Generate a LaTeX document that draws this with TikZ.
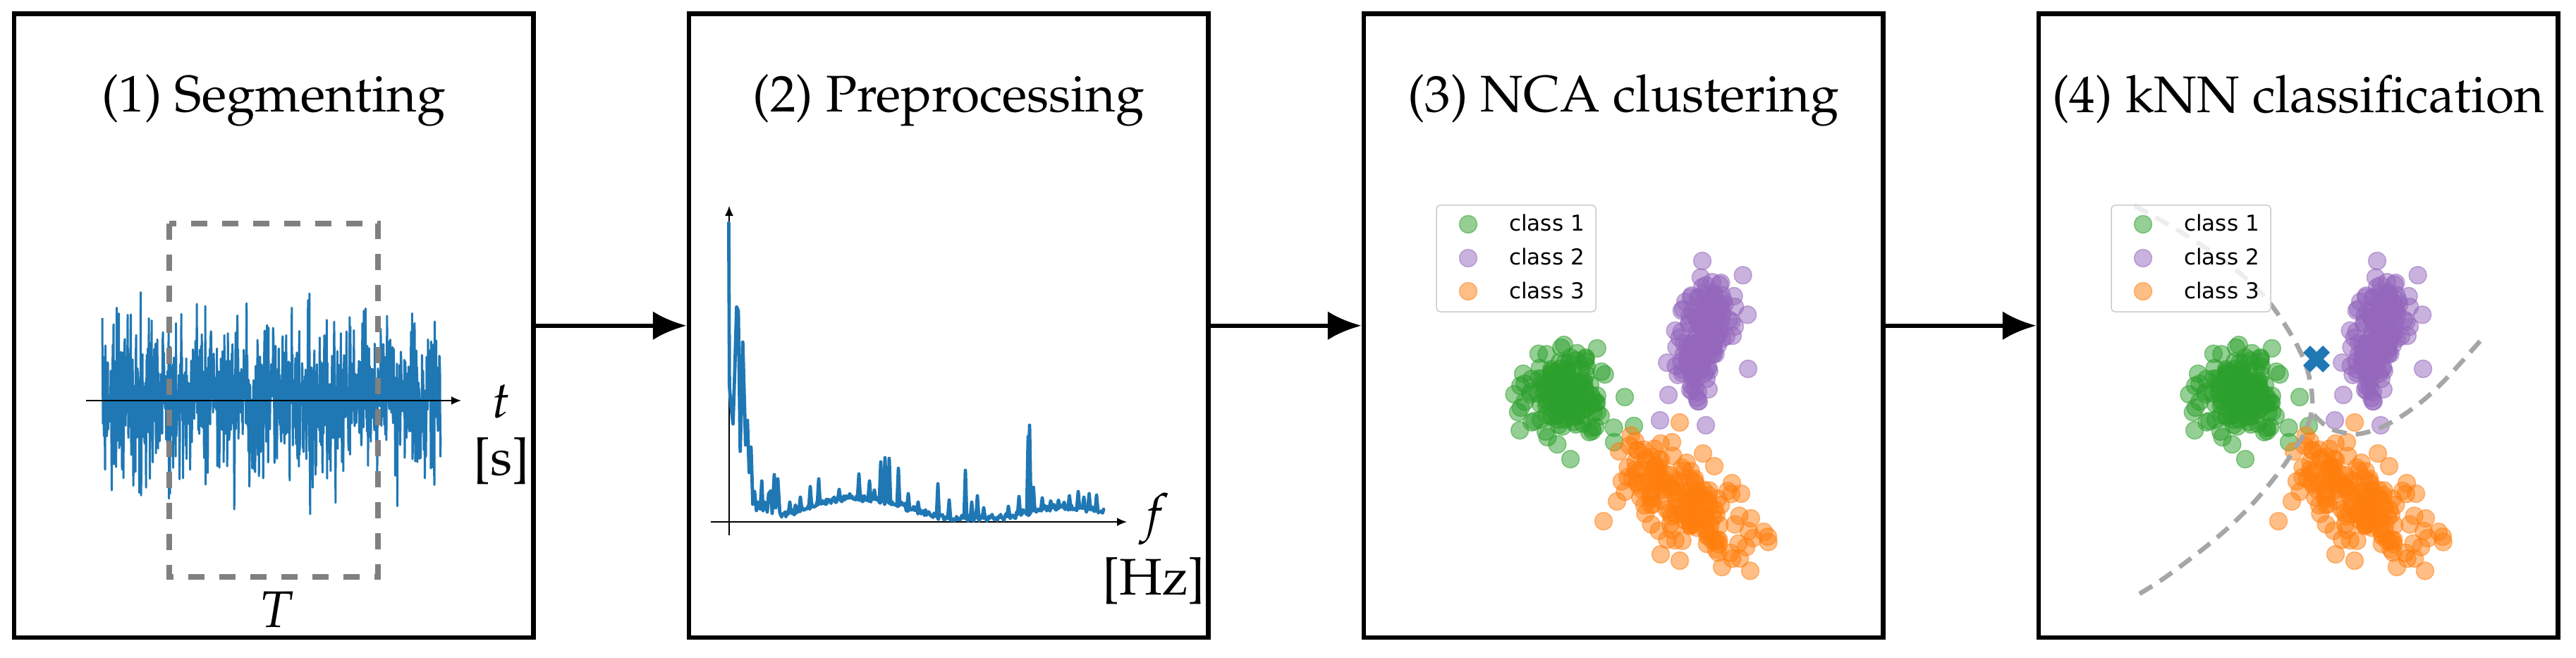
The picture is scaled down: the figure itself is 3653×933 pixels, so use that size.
\documentclass[tikz,border=0pt]{standalone}
\usepackage{fontspec}
\newfontfamily\legendfont{DejaVu Sans}
\usetikzlibrary{arrows.meta}
\definecolor{tabblue}{HTML}{1F77B4}
\definecolor{tabgreen}{HTML}{2CA02C}
\definecolor{tabpurple}{HTML}{9467BD}
\definecolor{taborange}{HTML}{FF7F0E}
\newcommand\palrm{\fontsize{73}{84}\usefont{OT1}{ppl}{m}{n}}
\newcommand\palit{\fontsize{73}{84}\usefont{OT1}{ppl}{m}{it}}
\newcommand\legfont{\legendfont\fontsize{31}{36}\selectfont}
\newcommand\gcluster[7]{%
  \foreach \i in {1,...,#2}{%
    \pgfmathsetmacro\ga{rand+rand+rand}%
    \pgfmathsetmacro\gb{rand+rand+rand}%
    \pgfmathsetmacro\ptx{#3+#5*\ga*cos(#7)-#6*\gb*sin(#7)}%
    \pgfmathsetmacro\pty{#4+#5*\ga*sin(#7)+#6*\gb*cos(#7)}%
    \path[pt=#1] (\ptx,\pty) circle[radius=12.5];
  }}
\newcommand\scatterpts{%
  \pgfmathsetseed{11}%
  \gcluster{tabgreen}{150}{2216}{562}{27}{29}{0}%
  \foreach \ox/\oy in {2214/493, 2304/563, 2317/604, 2289/627, 2227/651, 2156/547, 2271/527, 2160/530}{\path[pt=tabgreen] (\ox,\oy) circle[radius=12.5];}%
  \pgfmathsetseed{23}%
  \gcluster{tabpurple}{150}{2418}{478}{40}{18}{108}%
  \foreach \ox/\oy in {2414/370, 2479/523, 2354/596, 2419/603, 2366/560, 2390/428, 2409/569}{\path[pt=tabpurple] (\ox,\oy) circle[radius=12.5];}%
  \pgfmathsetseed{37}%
  \gcluster{taborange}{110}{2408}{730}{44}{24}{38}%
  \gcluster{taborange}{50}{2345}{672}{30}{22}{38}%
  \foreach \ox/\oy in {2382/599, 2371/627, 2296/640, 2274/739, 2293/711, 2355/786, 2382/795, 2442/804, 2507/761, 2480/753, 2469/700, 2456/685, 2431/661, 2415/643}{\path[pt=taborange] (\ox,\oy) circle[radius=12.5];}%
}
\newcommand\legendbox[1]{%
  \draw[legframe] (2037,291) rectangle (2263,442);
  \path[pt=tabgreen] (2082,318) circle[radius=12.5];
  \path[pt=tabpurple] (2082,366) circle[radius=12.5];
  \path[pt=taborange] (2082,413) circle[radius=12.5];
  \node[legtext] (#1-l1) at (2140,327.5) {class 1};
  \node[legtext] (#1-l2) at (2140,375.5) {class 2};
  \node[legtext] (#1-l3) at (2140,423) {class 3};
}
\begin{document}
\begin{tikzpicture}[x=1pt,y=-1pt,
  panel/.style={draw, line width=6.5pt, minimum width=736.5pt, minimum height=884.5pt, inner sep=0pt},
  title/.style={anchor=base, inner sep=0pt, font=\palrm},
  lab/.style={anchor=base, inner sep=0pt, font=\palrm},
  ilab/.style={anchor=base, inner sep=0pt, font=\palit},
  flow/.style={line width=6.5pt, -{Latex[length=48pt,width=41pt]}},
  axis/.style={line width=1.6pt, -{Latex[length=14pt,width=12pt]}},
  sig/.style={draw=tabblue, line width=3pt, line join=round},
  spec/.style={draw=tabblue, line width=4.8pt, line join=round, line cap=round},
  seg/.style={draw=black!50, line width=8pt, dash pattern=on 23pt off 21pt},
  pt/.style={fill=#1, draw=#1, fill opacity=0.5, draw opacity=0.5, line width=1.5pt},
  legframe/.style={draw=black!20, line width=1.5pt, fill=white, fill opacity=0.8, rounded corners=5pt},
  legtext/.style={anchor=base west, inner sep=0pt, font=\legfont},
  bound/.style={draw=black!35, line width=6.5pt, dash pattern=on 21pt off 13pt},
  declare function={bumpin(\qa,\qb,\qc)=max(0,1-((\qa-\qb)/\qc)*((\qa-\qb)/\qc));
    specbase(\qa)=734-28*bumpin(\qa,1215,135)*bumpin(\qa,1215,135)-15*bumpin(\qa,1510,100)*bumpin(\qa,1510,100);}
]
\useasboundingbox (0,0) rectangle (3653,933);
\fill[white] (0,0) rectangle (3653,933);
% panels
\node[panel] (p1) at (388.25,461.75) {};
\node[panel] (p2) at (1345.25,461.75) {};
\node[panel] (p3) at (2302.25,461.75) {};
\node[panel] (p4) at (3259.25,461.75) {};
\draw[flow] (p1.east) -- (p2.west);
\draw[flow] (p2.east) -- (p3.west);
\draw[flow] (p3.east) -- (p4.west);
% titles
\node[title] (t1) at (388.25,159) {(1) Segmenting};
\node[title] (t2) at (1345.25,159) {(2) Preprocessing};
\node[title] (t3) at (2302.25,159) {(3) NCA clustering};
\node[title] (t4) at (3259.25,160) {(4) kNN classification};
% panel 1
\pgfmathsetseed{5}
\draw[sig] plot[domain=145:625, samples=960] (\x,{566+50*(rand+rand+rand+rand)});
\draw[seg] (240,317) rectangle (536,818);
\coordinate (a1s) at (122,568);
\coordinate (a1e) at (654,568);
\draw[axis] (a1s) -- (a1e);
\node[ilab] (tl) at (711,592) {t};
\node[lab] (sl) at (711,673) {[s]};
\node[ilab] (Tl) at (392,889) {T};
% panel 2
\coordinate (a2o) at (1034,759);
\coordinate (a2y) at (1034,292);
\coordinate (a2x0) at (1008,740);
\coordinate (a2x) at (1598,740);
\draw[axis] (a2o) -- (a2y);
\draw[axis] (a2x0) -- (a2x);
\pgfmathsetseed{9}
\draw[spec] plot coordinates {(1033.4,316) (1034.4,548) (1036.5,575) (1039.5,601) (1042,524) (1044.6,435) (1047,441) (1049.7,640) (1053.3,485) (1057.3,631) (1059.9,596) (1062.4,670) (1065,634) (1067.6,715) (1070,697) (1072.7,724) (1075,712) (1078,722) (1080.3,682) (1082,724) (1085,712) (1088,726) (1090,700) (1093,696) (1095,728) (1098,673) (1100,720) (1103,679) (1105.8,727) (1108.4,733)}
  -- plot[domain=1110:1565, samples=300] (\x,{specbase(\x)+5*rand});
\foreach \sx/\sy in {1120/712, 1128/716, 1135/705, 1149/690, 1161/679, 1172/708, 1190/694, 1205/700, 1218/672, 1233/682, 1240/695, 1249/655, 1255/649, 1261/650, 1274/664, 1288/700, 1302/712, 1330/686, 1346/709, 1369/667, 1378/712, 1386/703, 1395/720, 1430/718, 1445/704, 1458/619, 1460/603, 1465.5/691, 1478/706, 1490/710, 1501/709, 1509/712, 1516.5/703, 1529/697, 1537/705, 1544.5/700, 1555/702}{
  \draw[spec] (\sx-2,{specbase(\sx-2)}) -- (\sx,\sy) -- (\sx+2,{specbase(\sx+2)});
}
\node[ilab] (fl) at (1637,752) {f};
\node[lab] (hl) at (1636,843) {[Hz]};
% panel 3
\scatterpts
\legendbox{c}
% panel 4
\begin{scope}[xshift=957pt]
\scatterpts
\end{scope}
\draw[bound] plot[smooth, tension=0.6] coordinates {(3027,292) (3091,328) (3157,372) (3208,417) (3245,468) (3270,518) (3279,568) (3272,605) (3254,637) (3229,673) (3188,721) (3137,768) (3070,819) (3027,846)};
\draw[bound] plot[smooth, tension=0.6] coordinates {(3281,588) (3300,605) (3321,613) (3347,615) (3383,603) (3423,578) (3464,542) (3521,479)};
\begin{scope}[xshift=957pt]
\legendbox{k}
\end{scope}
\draw[tabblue, line width=14pt] (3271,495) -- (3299,523) (3271,523) -- (3299,495);
\end{tikzpicture}
\end{document}
